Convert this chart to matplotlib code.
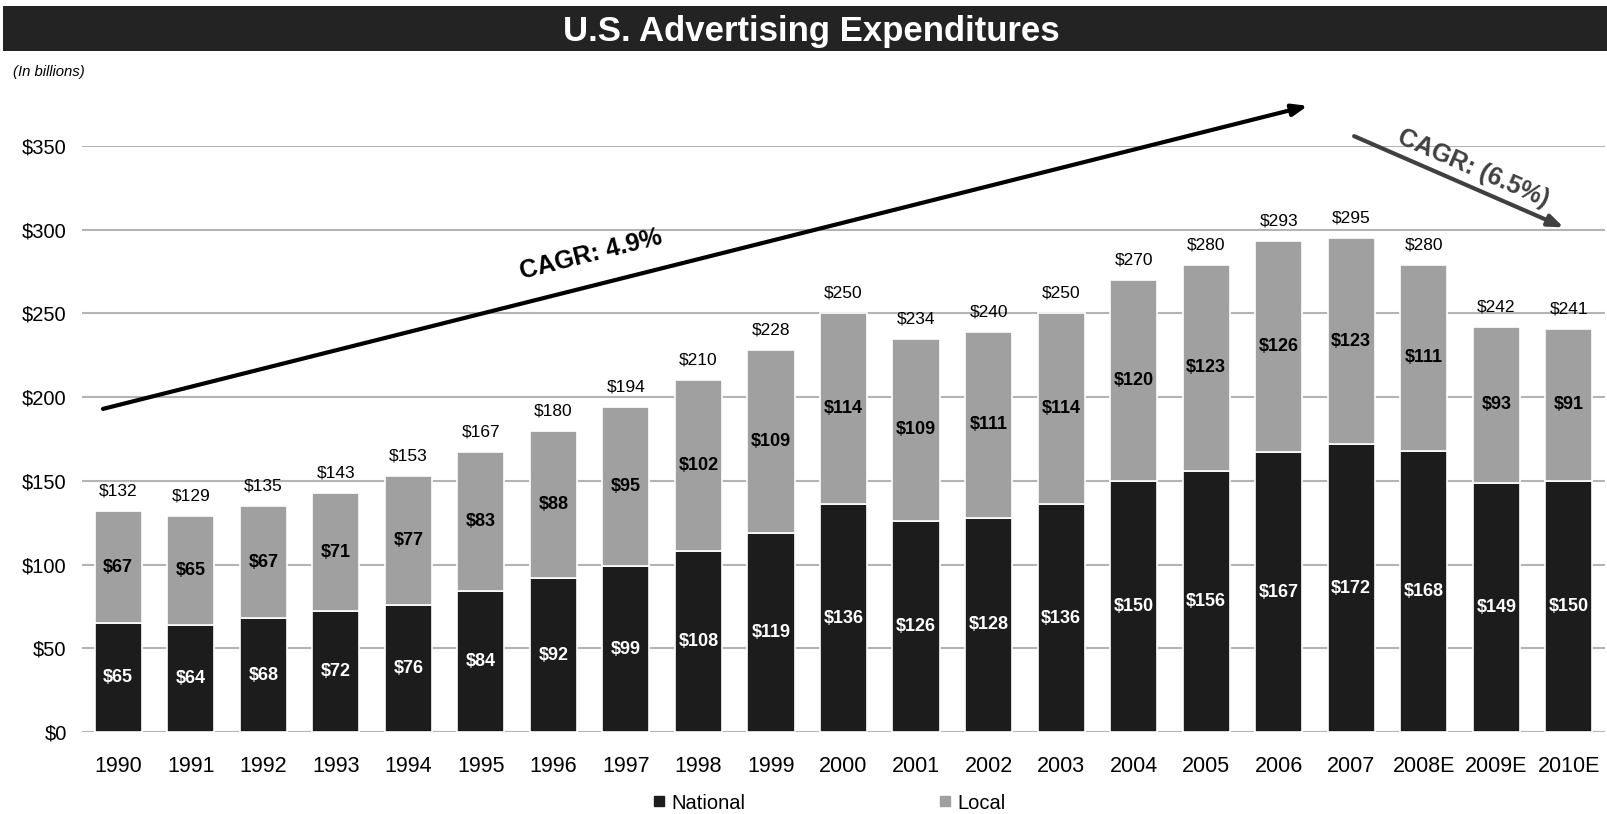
import matplotlib.pyplot as plt
from matplotlib.lines import Line2D
from matplotlib.patches import Rectangle

years = ["1990", "1991", "1992", "1993", "1994", "1995", "1996", "1997", "1998",
         "1999", "2000", "2001", "2002", "2003", "2004", "2005", "2006", "2007",
         "2008E", "2009E", "2010E"]
national = [65, 64, 68, 72, 76, 84, 92, 99, 108, 119, 136, 126, 128, 136, 150,
            156, 167, 172, 168, 149, 150]
local = [67, 65, 67, 71, 77, 83, 88, 95, 102, 109, 114, 109, 111, 114, 120,
         123, 126, 123, 111, 93, 91]
totals = [132, 129, 135, 143, 153, 167, 180, 194, 210, 228, 250, 234, 240, 250,
          270, 280, 293, 295, 280, 242, 241]
yticks = [0, 50, 100, 150, 200, 250, 300, 350]

NAT_COLOR = "#1c1c1c"
LOC_COLOR = "#a0a0a0"

plt.rcParams["font.family"] = ["Liberation Sans", "DejaVu Sans"]

fig = plt.figure(figsize=(16.07, 8.14), dpi=100)
ax = fig.add_axes([0.051, 0.1007, 0.9478, 0.7199])

# title banner
fig.patches.append(Rectangle((0.002, 0.9373), 0.998, 0.0553, transform=fig.transFigure,
                             facecolor="#232323", edgecolor="none", zorder=0))
fig.text(0.505, 0.961, "U.S. Advertising Expenditures", color="white",
         fontsize=25, fontweight="bold", ha="center", va="center")
fig.text(0.008, 0.912, "(In billions)", fontsize=10.7, style="italic",
         ha="left", va="center")

x = list(range(len(years)))
ax.bar(x, national, width=0.65, color=NAT_COLOR, edgecolor="white",
       linewidth=1.2, zorder=3)
ax.bar(x, local, width=0.65, bottom=national, color=LOC_COLOR,
       edgecolor="white", linewidth=1.2, zorder=3)

for i in x:
    ax.text(i, national[i] / 2, f"${national[i]}", color="white", fontsize=13,
            fontweight="bold", ha="center", va="center", zorder=4)
    ax.text(i, national[i] + local[i] / 2, f"${local[i]}", color="black",
            fontsize=13, fontweight="bold", ha="center", va="center", zorder=4)
    ax.annotate(f"${totals[i]}", (i, national[i] + local[i]),
                xytext=(0, 9), textcoords="offset points", ha="center",
                va="bottom", fontsize=12.5)

ax.set_xlim(-0.5, len(years) - 0.5)
ax.set_ylim(0, 350)
ax.set_yticks(yticks)
ax.set_yticklabels([f"${v}" for v in yticks], fontsize=14.5)
ax.set_xticks(x)
ax.set_xticklabels(years, fontsize=15.5)
ax.tick_params(length=0, axis="y", pad=11)
ax.tick_params(length=0, axis="x", pad=17)
ax.grid(axis="y", color="#b4b4b4", linewidth=1.5, zorder=0)
ax.set_axisbelow(True)
for s in ax.spines.values():
    s.set_visible(False)

# growth arrows
ax.annotate("", xy=(16.4, 374), xytext=(-0.21, 193), annotation_clip=False,
            arrowprops=dict(arrowstyle="-|>,head_length=0.9,head_width=0.35",
                            color="black", lw=3, shrinkA=0, shrinkB=0))
ax.text(6.52, 285.5, "CAGR: 4.9%", rotation=14.1, fontsize=18,
        fontweight="bold", ha="center", va="center", rotation_mode="anchor")
ax.annotate("", xy=(19.93, 301.4), xytext=(17.04, 355.9), annotation_clip=False,
            arrowprops=dict(arrowstyle="-|>,head_length=0.9,head_width=0.35",
                            color="#404040", lw=3, shrinkA=0, shrinkB=0))
ax.text(18.68, 336.5, "CAGR: (6.5%)", rotation=-23.5, fontsize=18,
        fontweight="bold", color="#404040", ha="center", va="center",
        rotation_mode="anchor")

handles = [Line2D([], [], marker="s", linestyle="none", markersize=7,
                  color=NAT_COLOR, label="National"),
           Line2D([], [], marker="s", linestyle="none", markersize=7,
                  color=LOC_COLOR, label="Local")]
fig.legend(handles=handles, loc="center", bbox_to_anchor=(0.516, 0.0135),
           ncol=2, frameon=False, fontsize=14.5, handlelength=0.6,
           handletextpad=0.3, columnspacing=9.6)

fig.savefig("out.png", dpi=100)
